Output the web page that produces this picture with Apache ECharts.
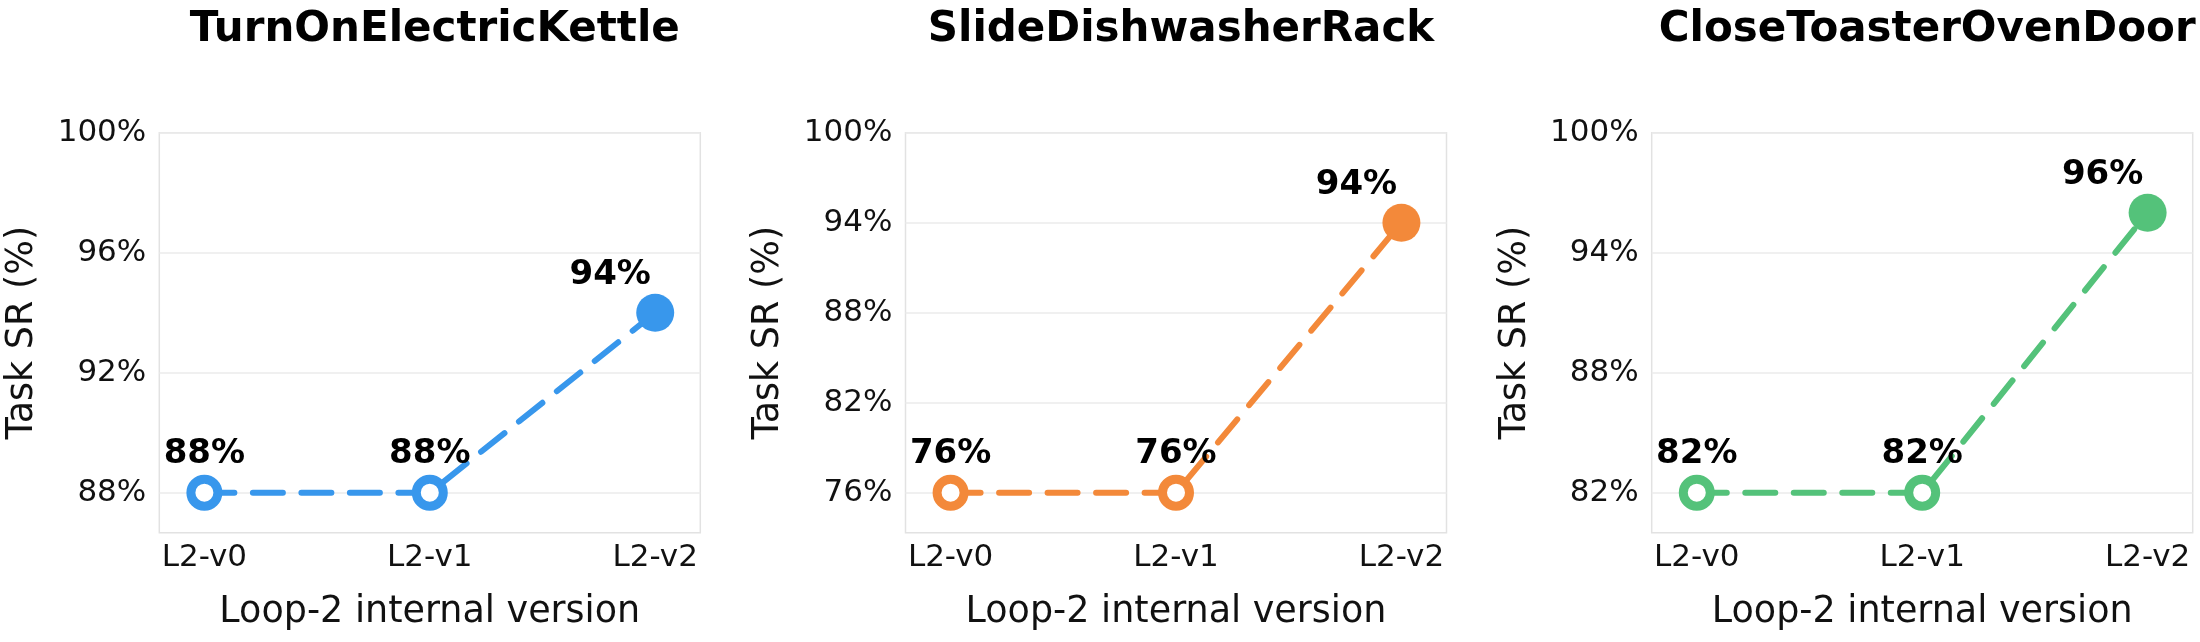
<!DOCTYPE html>
<html>
<head>
<meta charset="utf-8">
<script src="https://cdn.jsdelivr.net/npm/echarts@6/dist/echarts.min.js"></script>
<style>
html,body{margin:0;padding:0;background:#fff;}
#chart{width:2200px;height:642px;}
</style>
</head>
<body>
<div id="chart"></div>
<script>
// ---- data ----
const categories = ['L2-v0', 'L2-v1', 'L2-v2'];
const titles = ['TurnOnElectricKettle', 'SlideDishwasherRack', 'CloseToasterOvenDoor'];
const kettleValues = [88, 88, 94];
const dishwasherValues = [76, 76, 94];
const toasterValues = [82, 82, 96];
const kettleTicks = [88, 92, 96, 100];
const dishwasherTicks = [76, 82, 88, 94, 100];
const toasterTicks = [82, 88, 94, 100];
const colors = ['#3897ec', '#f3893a', '#54c27a'];
const xLabel = 'Loop-2 internal version';
const yLabel = 'Task SR (%)';

// ---- layout ----
const panels = [
  {values: kettleValues, ticks: kettleTicks, min: 86.6667, max: 100},
  {values: dishwasherValues, ticks: dishwasherTicks, min: 73.3333, max: 100},
  {values: toasterValues, ticks: toasterTicks, min: 80, max: 100}
];
const lefts = [159.3, 905.5, 1651.7];
const gridTop = 132.7, gridW = 541, gridH = 400;
const FONT = 'DejaVu Sans';

const grid = [], xAxis = [], yAxis = [], series = [], title = [];
panels.forEach((p, i) => {
  grid.push({left: lefts[i], top: gridTop, width: gridW, height: gridH,
    show: true, borderColor: '#e2e2e2', borderWidth: 1.5, backgroundColor: 'transparent'});
  title.push({text: titles[i], left: lefts[i] + gridW / 2, top: 4, textAlign: 'center',
    textStyle: {fontFamily: FONT, fontSize: 42, fontWeight: 'bold', color: '#000'}});
  xAxis.push({
    type: 'value', gridIndex: i, min: -0.2, max: 2.2,
    name: xLabel, nameLocation: 'middle', nameGap: 61,
    nameTextStyle: {fontFamily: FONT, fontSize: 36.5, color: '#111'},
    axisLine: {show: false}, splitLine: {show: false},
    axisTick: {show: false, customValues: [0, 1, 2]},
    axisLabel: {customValues: [0, 1, 2], formatter: v => categories[Math.round(v)],
      fontFamily: FONT, fontSize: 31, color: '#111', margin: 10}
  });
  yAxis.push({
    type: 'value', gridIndex: i, min: p.min, max: p.max,
    name: yLabel, nameLocation: 'middle', nameGap: 118, nameRotate: 90,
    nameTextStyle: {fontFamily: FONT, fontSize: 36.5, color: '#111'},
    axisLine: {show: false},
    axisTick: {show: false, customValues: p.ticks},
    splitLine: {show: true, lineStyle: {color: '#ebebeb', width: 1.5}},
    axisLabel: {customValues: p.ticks, formatter: v => Math.round(v) + '%',
      fontFamily: FONT, fontSize: 31, color: '#111', margin: 13}
  });
  const n = p.values.length;
  series.push({
    type: 'line', xAxisIndex: i, yAxisIndex: i, z: 3,
    lineStyle: {color: colors[i], width: 6, type: [30, 18.5], cap: 'round'},
    data: p.values.map((v, k) => {
      const last = k === n - 1;
      return {
        value: [k, v],
        symbol: 'circle',
        symbolSize: last ? 38 : 27,
        itemStyle: last ? {color: colors[i], borderWidth: 0}
                        : {color: '#fff', borderColor: colors[i], borderWidth: 9},
        label: {show: true, position: 'top', distance: last ? 2 : 4,
          offset: last ? [-45, 0] : [0, 0],
          formatter: v + '%', fontFamily: FONT, fontSize: 34, fontWeight: 'bold', color: '#000'}
      };
    }),
    animation: false
  });
});

const chart = echarts.init(document.getElementById('chart'), null, {renderer: 'canvas'});
chart.setOption({backgroundColor: '#fff', animation: false, title, grid, xAxis, yAxis, series});
</script>
</body>
</html>
